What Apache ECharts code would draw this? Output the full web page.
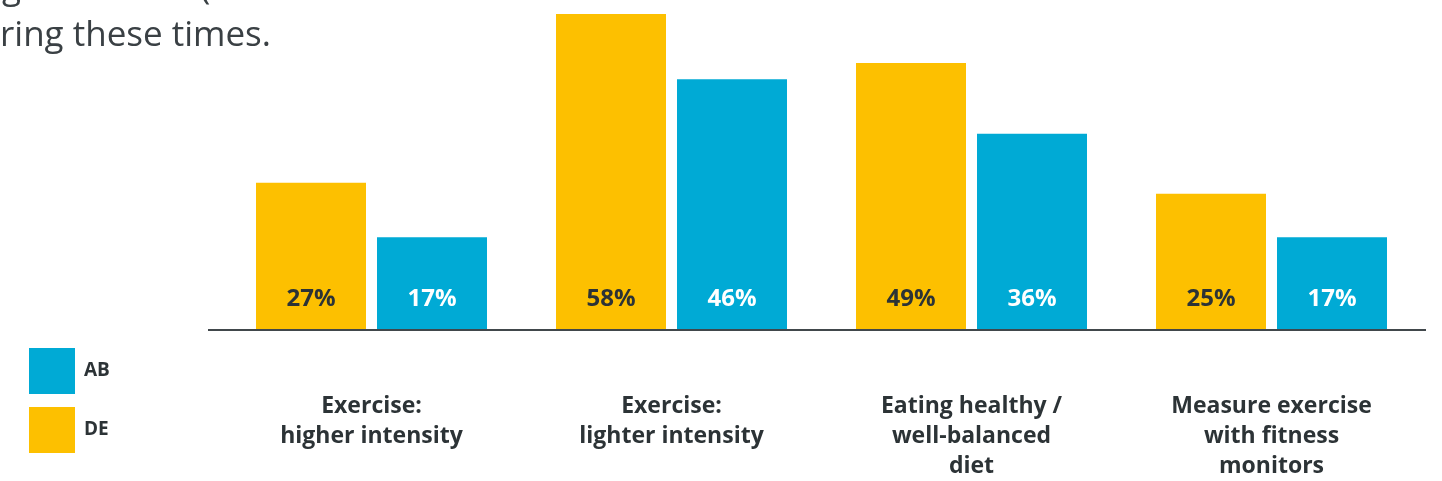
<!DOCTYPE html>
<html>
<head>
<meta charset="utf-8">
<script src="https://cdn.jsdelivr.net/npm/echarts@6/dist/echarts.min.js"></script>
<style>
  html, body { margin: 0; padding: 0; background: #ffffff; }
  #chart { width: 1442px; height: 481px; }
</style>
</head>
<body>
<div id="chart"></div>
<script>
// Share of respondents per activity, by social grade
const categories = [
  'Exercise:\nhigher intensity',
  'Exercise:\nlighter intensity',
  'Eating healthy /\nwell-balanced\ndiet',
  'Measure exercise\nwith fitness\nmonitors'
];
const seriesNames = ['DE', 'AB'];
const valuesDE = [27, 58, 49, 25];
const valuesAB = [17, 46, 36, 17];
const legendOrder = ['AB', 'DE'];

const FONT = '"Open Sans", Lato, sans-serif';
const DARK = '#2c3336';
const TEXT = '#3a4044';
const YELLOW = '#FDC000';
const BLUE = '#00AAD5';

const chart = echarts.init(document.getElementById('chart'), null, { renderer: 'canvas' });

chart.setOption({
  animation: false,
  backgroundColor: '#ffffff',
  grid: { left: 221.5, width: 1200, top: 3, bottom: 151, containLabel: false },
  legend: {
    data: legendOrder,
    orient: 'vertical',
    left: 29,
    top: 348,
    padding: 0,
    icon: 'rect',
    itemWidth: 46,
    itemHeight: 46,
    itemGap: 13,
    textStyle: { fontFamily: FONT, fontWeight: 'bold', fontSize: 19, color: DARK, padding: [0, 0, 0, 4] }
  },
  xAxis: {
    type: 'category',
    data: categories,
    axisLine: { show: false },
    axisTick: { show: false },
    axisLabel: {
      margin: 61,
      verticalAlign: 'top',
      fontFamily: FONT,
      fontWeight: 'bold',
      fontSize: 23,
      lineHeight: 30,
      color: DARK,
      align: 'center'
    }
  },
  yAxis: {
    type: 'value',
    min: 0,
    max: 60,
    show: false,
    splitLine: { show: false }
  },
  series: [
    {
      name: seriesNames[0],
      type: 'bar',
      data: valuesDE,
      barWidth: 110,
      barGap: '10%',
      itemStyle: { color: YELLOW },
      label: {
        show: true,
        position: 'insideBottom',
        distance: 19,
        formatter: '{c}%',
        fontFamily: FONT,
        fontWeight: 'bold',
        fontSize: 24,
        color: DARK
      }
    },
    {
      name: seriesNames[1],
      type: 'bar',
      data: valuesAB,
      barWidth: 110,
      barGap: '10%',
      itemStyle: { color: BLUE },
      label: {
        show: true,
        position: 'insideBottom',
        distance: 19,
        formatter: '{c}%',
        fontFamily: FONT,
        fontWeight: 'bold',
        fontSize: 24,
        color: '#ffffff'
      }
    }
  ],
  graphic: [
    {
      type: 'line',
      shape: { x1: 208, y1: 330, x2: 1426, y2: 330 },
      style: { stroke: '#41474b', lineWidth: 2 },
      z: 10
    },
    {
      type: 'text',
      x: 0,
      y: 36,
      style: {
        text: 'ring these times.',
        font: '35px ' + FONT,
        fill: TEXT,
        verticalAlign: 'middle'
      }
    },
    {
      type: 'text',
      x: 2,
      y: -11,
      style: { text: 'g', font: '35px ' + FONT, fill: TEXT, verticalAlign: 'middle' }
    },
    {
      type: 'text',
      x: 200,
      y: -11,
      style: { text: '(', font: '35px ' + FONT, fill: TEXT, verticalAlign: 'middle' }
    }
  ]
});
</script>
</body>
</html>
